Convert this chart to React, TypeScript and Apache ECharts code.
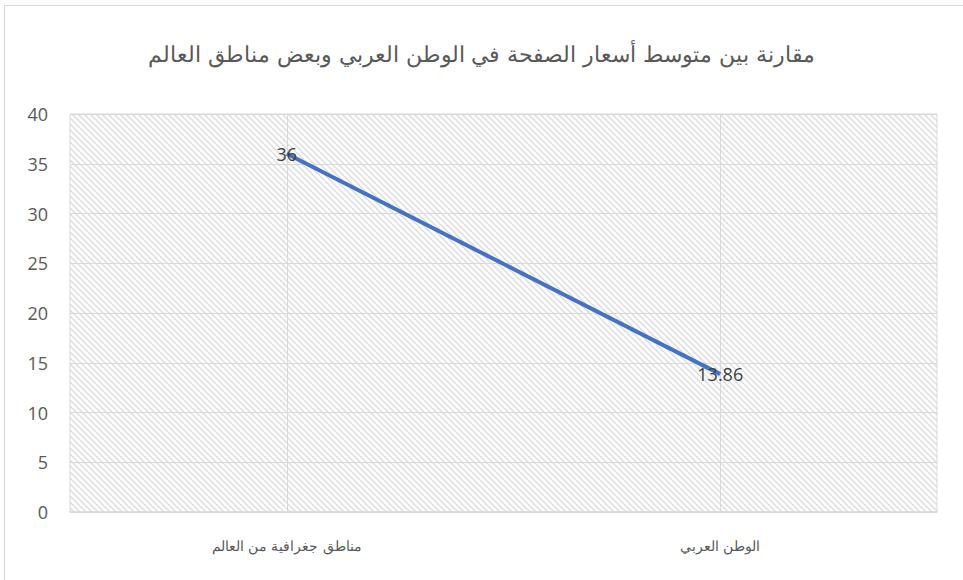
import React, { useEffect, useRef } from "react";
import * as echarts from "echarts";

const titleText = "مقارنة بين متوسط أسعار الصفحة في الوطن العربي وبعض مناطق العالم";
const categories = ["مناطق جغرافية من العالم", "الوطن العربي"];
const values = [36, 13.86];
const yTicks = { min: 0, max: 40, interval: 5 };

function makeHatch(): HTMLCanvasElement {
  const size = 6;
  const c = document.createElement("canvas");
  c.width = size;
  c.height = size;
  const ctx = c.getContext("2d")!;
  ctx.fillStyle = "#ffffff";
  ctx.fillRect(0, 0, size, size);
  ctx.strokeStyle = "#dcdcdc";
  ctx.lineWidth = 1.4;
  for (let k = -1; k <= 1; k++) {
    ctx.beginPath();
    ctx.moveTo(k * size - 1, -1);
    ctx.lineTo(k * size + size + 1, size + 1);
    ctx.stroke();
  }
  return c;
}

export default function App() {
  const ref = useRef<HTMLDivElement>(null);
  useEffect(() => {
    document.body.style.margin = "0";
    const chart = echarts.init(ref.current!, null, { renderer: "svg" });
    const hatch = makeHatch();
    chart.setOption({
      animation: false,
      backgroundColor: "#ffffff",
      title: {
        text: titleText,
        left: "center",
        top: 38,
        textStyle: {
          fontFamily: "'DejaVu Serif', serif",
          fontSize: 22,
          fontWeight: "normal",
          color: "#595959",
        },
      },
      graphic: [
        {
          type: "rect",
          shape: { x: 4.5, y: 5.5, width: 970, height: 600 },
          style: { fill: "none", stroke: "#d9d9d9", lineWidth: 1 },
          silent: true,
          z: 100,
        },
      ],
      grid: {
        left: 70,
        right: 26,
        top: 114,
        bottom: 68,
        show: true,
        borderColor: "#d9d9d9",
        borderWidth: 1,
        backgroundColor: { image: hatch as any, repeat: "repeat" },
      },
      xAxis: {
        type: "category",
        data: categories,
        boundaryGap: true,
        axisLine: { show: true, lineStyle: { color: "#d9d9d9", width: 1.5 } },
        axisTick: { show: false },
        splitLine: { show: false },
        axisLabel: {
          margin: 27,
          fontFamily: "'DejaVu Serif', serif",
          fontSize: 14,
          color: "#595959",
        },
      },
      yAxis: {
        type: "value",
        min: yTicks.min,
        max: yTicks.max,
        interval: yTicks.interval,
        axisLine: { show: false },
        axisTick: { show: false },
        splitLine: { show: true, lineStyle: { color: "#d9d9d9", width: 1 } },
        axisLabel: {
          margin: 22,
          fontFamily: "'Open Sans', 'Liberation Sans', sans-serif",
          fontSize: 18,
          color: "#595959",
        },
      },
      series: [
        {
          type: "line",
          data: values,
          symbol: "circle",
          symbolSize: 0,
          showSymbol: true,
          lineStyle: { color: "#4472C4", width: 4 },
          itemStyle: { color: "#4472C4" },
          label: {
            show: true,
            position: "inside",
            fontFamily: "'Open Sans', 'Liberation Sans', sans-serif",
            fontSize: 18,
            color: "#404040",
          },
          markLine: {
            silent: true,
            symbol: "none",
            label: { show: false },
            lineStyle: { color: "#d9d9d9", width: 1, type: "solid" },
            data: [{ xAxis: 0 }, { xAxis: 1 }],
            z: 1,
          },
          z: 5,
        },
      ],
    });
    return () => chart.dispose();
  }, []);
  return <div ref={ref} style={{ width: 963, height: 580 }} />;
}
